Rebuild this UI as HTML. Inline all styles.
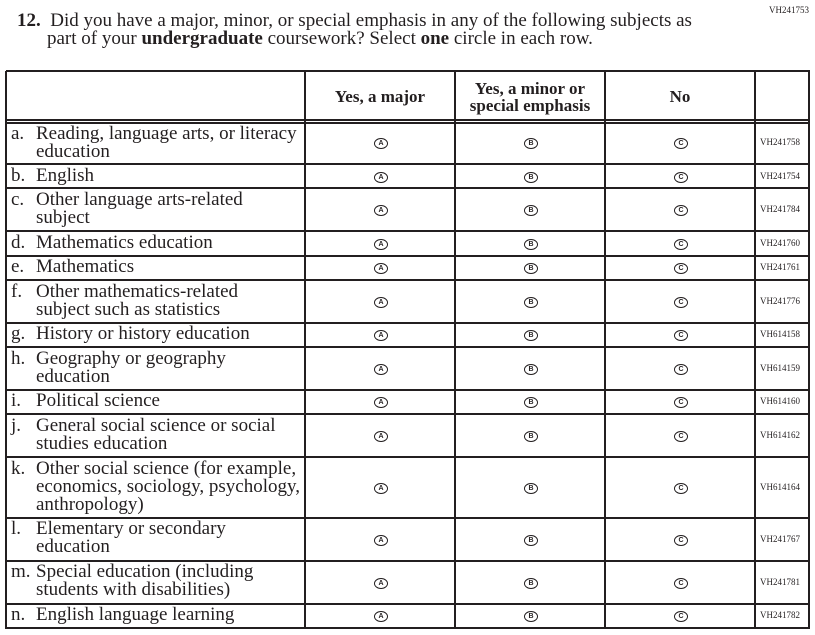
<!DOCTYPE html>
<html><head><meta charset="utf-8"><style>
body{margin:0;width:815px;height:635px;background:#fff;position:relative;overflow:hidden;font-family:"Liberation Serif",serif;color:#231f20}
.a{position:absolute}
.h{position:absolute;left:6px;width:804px;height:2px;background:#231f20}
.v{position:absolute;top:71px;height:558px;width:2px;background:#231f20}
.t{position:absolute;font-size:19px;line-height:18px;white-space:nowrap}
.l{position:absolute;left:11px;font-size:19px;line-height:18px}
.o{position:absolute;width:12px;height:9px;border:1px solid #231f20;border-radius:50%;font:bold 7px/9px "Liberation Sans",sans-serif;text-align:center}
.c{position:absolute;left:760px;font-size:9px}
.hd{position:absolute;font-weight:bold;font-size:17px;line-height:17px;text-align:center}
</style></head><body>
<div class="a" style="left:769px;top:5px;font-size:9px">VH241753</div>
<div class="a" style="left:17px;top:12px;font-size:19px;line-height:18px;white-space:nowrap"><b>12.</b>&nbsp; Did you have a major, minor, or special emphasis in any of the following subjects as<br><span style="padding-left:30px">part of your <b>undergraduate</b> coursework? Select <b>one</b> circle in each row.</span></div>

<div class="h" style="top:70px"></div>
<div class="h" style="top:119px"></div>
<div class="h" style="top:122px"></div>
<div class="h" style="top:163px"></div>
<div class="h" style="top:187px"></div>
<div class="h" style="top:230px"></div>
<div class="h" style="top:255px"></div>
<div class="h" style="top:279px"></div>
<div class="h" style="top:322px"></div>
<div class="h" style="top:346px"></div>
<div class="h" style="top:389px"></div>
<div class="h" style="top:413px"></div>
<div class="h" style="top:456px"></div>
<div class="h" style="top:517px"></div>
<div class="h" style="top:560px"></div>
<div class="h" style="top:603px"></div>
<div class="h" style="top:627px"></div>
<div class="v" style="left:5px"></div>
<div class="v" style="left:304px"></div>
<div class="v" style="left:454px"></div>
<div class="v" style="left:604px"></div>
<div class="v" style="left:754px"></div>
<div class="v" style="left:808px"></div>

<div class="hd" style="left:306px;width:148px;top:88px">Yes, a major</div>
<div class="hd" style="left:456px;width:148px;top:80px">Yes, a minor or<br>special emphasis</div>
<div class="hd" style="left:606px;width:148px;top:88px">No</div>

<div class="l" style="top:125px">a.</div><div class="t" style="left:36px;top:125px">Reading, language arts, or literacy<br>education</div>
<div class="l" style="top:167px">b.</div><div class="t" style="left:36px;top:167px">English</div>
<div class="l" style="top:191px">c.</div><div class="t" style="left:36px;top:191px">Other language arts-related<br>subject</div>
<div class="l" style="top:234px">d.</div><div class="t" style="left:36px;top:234px">Mathematics education</div>
<div class="l" style="top:258px">e.</div><div class="t" style="left:36px;top:258px">Mathematics</div>
<div class="l" style="top:283px">f.</div><div class="t" style="left:36px;top:283px">Other mathematics-related<br>subject such as statistics</div>
<div class="l" style="top:325px">g.</div><div class="t" style="left:36px;top:325px">History or history education</div>
<div class="l" style="top:350px">h.</div><div class="t" style="left:36px;top:350px">Geography or geography<br>education</div>
<div class="l" style="top:392px">i.</div><div class="t" style="left:36px;top:392px">Political science</div>
<div class="l" style="top:417px">j.</div><div class="t" style="left:36px;top:417px">General social science or social<br>studies education</div>
<div class="l" style="top:460px">k.</div><div class="t" style="left:36px;top:460px">Other social science (for example,<br>economics, sociology, psychology,<br>anthropology)</div>
<div class="l" style="top:520px">l.</div><div class="t" style="left:36px;top:520px">Elementary or secondary<br>education</div>
<div class="l" style="top:563px">m.</div><div class="t" style="left:36px;top:563px">Special education (including<br>students with disabilities)</div>
<div class="l" style="top:606px">n.</div><div class="t" style="left:36px;top:606px">English language learning</div>

<div class="o" style="left:374px;top:138px">A</div><div class="o" style="left:524px;top:138px">B</div><div class="o" style="left:674px;top:138px">C</div><div class="c" style="top:137px">VH241758</div>
<div class="o" style="left:374px;top:172px">A</div><div class="o" style="left:524px;top:172px">B</div><div class="o" style="left:674px;top:172px">C</div><div class="c" style="top:171px">VH241754</div>
<div class="o" style="left:374px;top:205px">A</div><div class="o" style="left:524px;top:205px">B</div><div class="o" style="left:674px;top:205px">C</div><div class="c" style="top:204px">VH241784</div>
<div class="o" style="left:374px;top:239px">A</div><div class="o" style="left:524px;top:239px">B</div><div class="o" style="left:674px;top:239px">C</div><div class="c" style="top:238px">VH241760</div>
<div class="o" style="left:374px;top:263px">A</div><div class="o" style="left:524px;top:263px">B</div><div class="o" style="left:674px;top:263px">C</div><div class="c" style="top:262px">VH241761</div>
<div class="o" style="left:374px;top:297px">A</div><div class="o" style="left:524px;top:297px">B</div><div class="o" style="left:674px;top:297px">C</div><div class="c" style="top:296px">VH241776</div>
<div class="o" style="left:374px;top:330px">A</div><div class="o" style="left:524px;top:330px">B</div><div class="o" style="left:674px;top:330px">C</div><div class="c" style="top:329px">VH614158</div>
<div class="o" style="left:374px;top:364px">A</div><div class="o" style="left:524px;top:364px">B</div><div class="o" style="left:674px;top:364px">C</div><div class="c" style="top:363px">VH614159</div>
<div class="o" style="left:374px;top:397px">A</div><div class="o" style="left:524px;top:397px">B</div><div class="o" style="left:674px;top:397px">C</div><div class="c" style="top:396px">VH614160</div>
<div class="o" style="left:374px;top:431px">A</div><div class="o" style="left:524px;top:431px">B</div><div class="o" style="left:674px;top:431px">C</div><div class="c" style="top:430px">VH614162</div>
<div class="o" style="left:374px;top:483px">A</div><div class="o" style="left:524px;top:483px">B</div><div class="o" style="left:674px;top:483px">C</div><div class="c" style="top:482px">VH614164</div>
<div class="o" style="left:374px;top:535px">A</div><div class="o" style="left:524px;top:535px">B</div><div class="o" style="left:674px;top:535px">C</div><div class="c" style="top:534px">VH241767</div>
<div class="o" style="left:374px;top:578px">A</div><div class="o" style="left:524px;top:578px">B</div><div class="o" style="left:674px;top:578px">C</div><div class="c" style="top:577px">VH241781</div>
<div class="o" style="left:374px;top:611px">A</div><div class="o" style="left:524px;top:611px">B</div><div class="o" style="left:674px;top:611px">C</div><div class="c" style="top:610px">VH241782</div>
</body></html>
